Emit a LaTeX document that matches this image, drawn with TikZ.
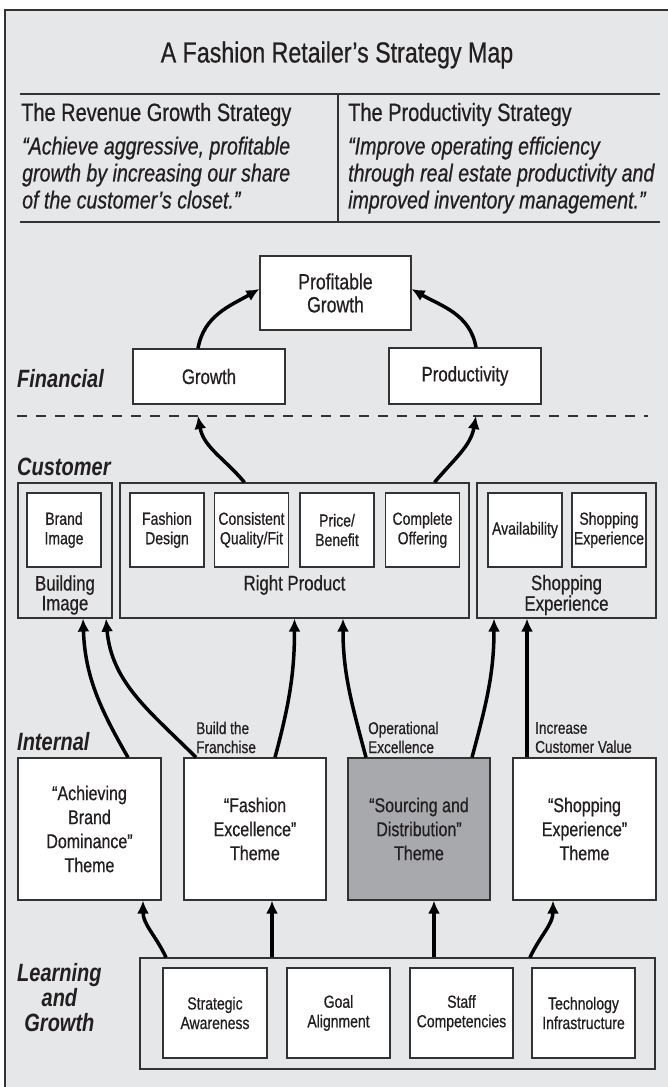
\documentclass[tikz,border=0pt]{standalone}
\usepackage{fontspec}
\setmainfont{Liberation Sans}[FakeStretch=0.8,
  UprightFeatures={FakeBold=0.6}, ItalicFeatures={FakeBold=0.6}]
\usetikzlibrary{arrows.meta}

\definecolor{mapbg}{HTML}{E6E7E8}
\definecolor{themegray}{HTML}{A7A9AC}
\definecolor{edge}{HTML}{333333}
\definecolor{ink}{HTML}{231F20}

\tikzset{
  box/.style={draw=edge, line width=1.2pt, fill=white, align=center, inner sep=0pt,
    font=\fontsize{17.5}{19.5}\selectfont},
  group/.style={draw=edge, line width=1.2pt, inner sep=0pt},
  theme/.style={box, minimum width=142pt, minimum height=142pt,
    font=\fontsize{20}{24}\selectfont},
  persp/.style={anchor=west, align=center, inner sep=0pt,
    font=\fontsize{25}{25}\selectfont\bfseries\itshape},
  link/.style={line width=3.5pt, -{Latex[length=13pt,width=12pt]}},
}

\begin{document}
\begin{tikzpicture}[x=1pt, y=1pt, text=ink]
    \useasboundingbox (0,0) rectangle (668,1087);
    \fill [mapbg] (5,0) rectangle (668,1077);
    \draw [line width=1.2pt, edge] (5,0) -- (5,1077) -- (668,1077);

    % title and the two strategies
    \node [font=\fontsize{29}{29}\selectfont] (title) at (337,1032) {A Fashion Retailer’s Strategy Map};
    \draw [line width=2pt, edge] (20,993) -- (660,993);
    \draw [line width=2pt, edge] (20,865) -- (660,865);
    \draw [line width=1.2pt, edge] (338,993) -- (338,865);
    \node [anchor=base west, inner sep=0pt, font=\fontsize{25}{25}\selectfont] (revhead) at (21,966) {The Revenue Growth Strategy};
    \node [anchor=north west, align=left, inner sep=0pt, font=\fontsize{24.5}{27}\selectfont\itshape] (revquote) at (22,950.5)
      {“Achieve aggressive, profitable\\growth by increasing our share\\of the customer’s closet.”};
    \node [anchor=base west, inner sep=0pt, font=\fontsize{25}{25}\selectfont] (prodhead) at (348,966) {The Productivity Strategy};
    \node [anchor=north west, align=left, inner sep=0pt, font=\fontsize{24.5}{27}\selectfont\itshape] (prodquote) at (348,950.5)
      {“Improve operating efficiency\\through real estate productivity and\\improved inventory management.”};

    % financial
    \node [persp] (finlbl) at (17,708) {Financial};
    \node [box, minimum width=151pt, minimum height=74pt, font=\fontsize{22}{23}\selectfont] (profit) at (335.5,794) {Profitable\\Growth};
    \node [box, minimum width=152pt, minimum height=55pt, font=\fontsize{21}{21}\selectfont] (growth) at (209,710.5) {Growth};
    \node [box, minimum width=152pt, minimum height=56pt, font=\fontsize{21}{21}\selectfont] (prod) at (465,711) {Productivity};
    \draw [line width=2pt, edge, dash pattern=on 10pt off 9pt] (17,671) -- (648,671);
    \coordinate (gtip) at (198,671);
    \coordinate (ptip) at (476,671);

    % customer
    \node [persp] (custlbl) at (17,620) {Customer};
    \node [group, minimum width=94pt, minimum height=135pt] (buildgrp) at (65,536.5) {};
    \node [group, minimum width=349pt, minimum height=135pt] (rightgrp) at (294.5,536.5) {};
    \node [group, minimum width=179pt, minimum height=135pt] (shopgrp) at (566.5,536.5) {};
    \node [box, minimum width=74pt, minimum height=74pt] (brandimg) at (64,557) {Brand\\Image};
    \node [box, minimum width=74pt, minimum height=74pt] (fashdes) at (167,557) {Fashion\\Design};
    \node [box, minimum width=74pt, minimum height=74pt] (quality) at (251.5,557) {Consistent\\Quality/Fit};
    \node [box, minimum width=74pt, minimum height=74pt] (price) at (337,557) {Price/\\Benefit};
    \node [box, minimum width=74pt, minimum height=74pt] (offer) at (422.5,557) {Complete\\Offering};
    \node [box, minimum width=74pt, minimum height=74pt] (avail) at (525,557) {Availability};
    \node [box, minimum width=74pt, minimum height=74pt] (shopexp) at (609,557) {Shopping\\Experience};
    \node [align=center, inner sep=0pt, font=\fontsize{21}{17}\selectfont] (buildlbl) at (65,492) {Building\\Image};
    \node [align=center, inner sep=0pt, font=\fontsize{21}{17}\selectfont] (rightlbl) at (294.5,502) {Right Product};
    \node [align=center, inner sep=0pt, font=\fontsize{21}{17}\selectfont] (shoplbl) at (566.5,492) {Shopping\\Experience};

    % internal
    \node [persp] (intlbl) at (17,345) {Internal};
    \node [theme, minimum width=143pt] (brandth) at (89.5,258) {“Achieving\\Brand\\Dominance”\\Theme};
    \node [theme] (fashth) at (255,258) {“Fashion\\Excellence”\\Theme};
    \node [theme, fill=themegray] (sourceth) at (419,258) {“Sourcing and\\Distribution”\\Theme};
    \node [theme, minimum width=143pt] (shopth) at (584.5,258) {“Shopping\\Experience”\\Theme};
    \node [anchor=west, align=left, inner sep=0pt, font=\fontsize{17}{19}\selectfont] (franlbl) at (196,349.5) {Build the\\Franchise};
    \node [anchor=west, align=left, inner sep=0pt, font=\fontsize{17}{19}\selectfont] (opexlbl) at (368,349.5) {Operational\\Excellence};
    \node [anchor=west, align=left, inner sep=0pt, font=\fontsize{17}{19}\selectfont] (valuelbl) at (535,349.5) {Increase\\Customer Value};

    % learning and growth
    \node [persp] (learnlbl) at (17,89) {Learning\\and\\Growth};
    \node [group, minimum width=515pt, minimum height=111pt] (learngrp) at (397.5,73.5) {};
    \node [box, minimum width=104pt, minimum height=90pt] (aware) at (215,74) {Strategic\\Awareness};
    \node [box, minimum width=103pt, minimum height=90pt] (goal) at (338.5,74) {Goal\\Alignment};
    \node [box, minimum width=103pt, minimum height=90pt] (staff) at (461.5,74) {Staff\\Competencies};
    \node [box, minimum width=103pt, minimum height=90pt] (techinf) at (583.5,74) {Technology\\Infrastructure};

    % links
    \draw [link] ([xshift=-11pt]growth.north) to[out=80,in=210] ([yshift=4pt]profit.west);
    \draw [link] ([xshift=11pt]prod.north) to[out=100,in=-30] ([yshift=4pt]profit.east);
    \draw [link] ([xshift=-50pt]rightgrp.north) to[out=130,in=-80] (gtip);
    \draw [link] ([xshift=140pt]rightgrp.north) to[out=50,in=-100] (ptip);

    \draw [link] ([xshift=38.5pt]brandth.north) to[out=120,in=-88] ([xshift=18pt]buildgrp.south);
    \draw [link] ([xshift=-59pt]fashth.north) to[out=135,in=-85] ([xshift=41pt]buildgrp.south);
    \draw [link] ([xshift=20pt]fashth.north) to[out=75,in=-90] (rightgrp.south);
    \draw [link] ([xshift=-53pt]sourceth.north) to[out=105,in=-90] ([xshift=48.5pt]rightgrp.south);
    \draw [link] ([xshift=53pt]sourceth.north) to[out=75,in=-90] ([xshift=-72.5pt]shopgrp.south);
    \draw [link] ([xshift=-57.5pt]shopth.north) -- ([xshift=-39.5pt]shopgrp.south);

    \draw [link] ([xshift=-231.5pt]learngrp.north) to[out=115,in=-90] ([xshift=53.5pt]brandth.south);
    \draw [link] ([xshift=-125.5pt]learngrp.north) -- ([xshift=17pt]fashth.south);
    \draw [link] ([xshift=36.5pt]learngrp.north) -- ([xshift=15pt]sourceth.south);
    \draw [link] ([xshift=132.5pt]learngrp.north) to[out=65,in=-90] ([xshift=-31.5pt]shopth.south);
\end{tikzpicture}
\end{document}
